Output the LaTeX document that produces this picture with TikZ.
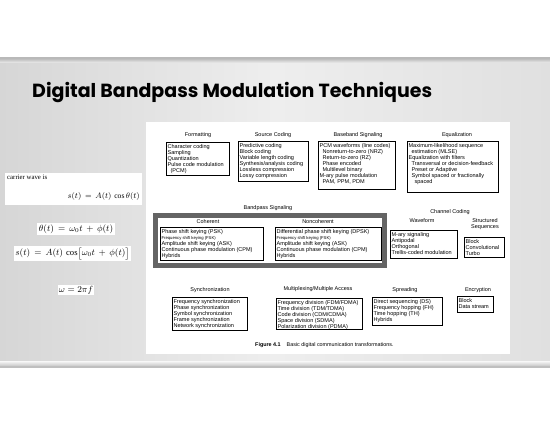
\documentclass[tikz,border=0pt]{standalone}
\usepackage{fontspec}
\setmainfont{Liberation Serif}
\newfontfamily\figfont{Liberation Sans}
\newfontfamily\titlefont{Poppins}
\definecolor{framegray}{RGB}{100,100,100}
\definecolor{bandleft}{RGB}{214,214,214}
\definecolor{bandmid}{RGB}{238,238,238}
\definecolor{bandright}{RGB}{224,224,224}
\tikzset{
  boxframe/.style={draw=black, line width=0.45pt, fill=white, inner sep=0pt},
  boxtext/.style={anchor=north west, align=left, inner xsep=1.6pt, inner ysep=2.1pt,
    font=\figfont\fontsize{5.55}{6}\selectfont},
  head/.style={font=\figfont\fontsize{5.5}{6.2}\selectfont, inner sep=0pt, align=center},
  eqbox/.style={fill=white, inner sep=1.5pt}
}
\newcommand{\ind}{\hspace*{3pt}}
\newcommand{\fsk}{{\fontsize{4.2}{5}\selectfont Frequency shift keying (FSK)}}
% framed list: name, left, top, right, bottom, lines
\newcommand{\infobox}[6]{%
  \node[boxframe, minimum width={(#4-#2)*1pt}, minimum height={(#5-#3)*1pt}]
    (#1) at ({(#2+#4)/2},{(#3+#5)/2}) {};
  \node[boxtext] (#1-text) at (#1.north west) {#6};
}
\begin{document}
\begin{tikzpicture}[x=1pt,y=-1pt]
\useasboundingbox (0,0) rectangle (550,425);
\fill[white] (0,0) rectangle (550,425);
% slide band
\shade[left color=bandleft, right color=bandright, middle color=bandmid] (0,59) rectangle (550,368);
\fill[gray!55] (0,57.5) rectangle (550,59.5);
\shade[top color=gray!45, bottom color=bandmid] (0,59.5) rectangle (550,63);
\fill[gray!50] (0,365.5) rectangle (550,368);
\shade[top color=bandmid, bottom color=gray!40] (0,362) rectangle (550,365.5);

% title
\node[anchor=base west, inner sep=0pt, font=\titlefont\bfseries\fontsize{19}{22}\selectfont] (title) at (32,97.5) {Digital Bandpass Modulation Techniques};

% equations
\node[eqbox, minimum width=137pt, minimum height=32pt] (carrier) at (73.5,189) {};
\node[anchor=base west, inner sep=0pt, font=\fontsize{6.8}{8}\selectfont] (cwave) at (7,180) {carrier wave is};
\node[anchor=base east, inner sep=0pt, font=\fontsize{7.6}{9}\selectfont] (seq) at (140,199) {$s(t)\,=\,A(t)\,\cos\theta(t)$};
\node[eqbox, font=\fontsize{8.6}{10}\selectfont] (theta) at (76,229) {$\theta(t)\,=\,\omega_0t\,+\,\phi(t)$};
\node[eqbox, font=\fontsize{8.6}{10}\selectfont] (sfull) at (72.5,253.5) {$s(t)\,=\,A(t)\,\cos\bigl[\omega_0t\,+\,\phi(t)\bigr]$};
\node[eqbox, inner sep=0.8pt, font=\fontsize{8.6}{10}\selectfont] (omega) at (76,290) {$\omega=2\pi f$};

% figure sheet
\fill[white] (146,122) rectangle (510,354);

% headings
\node[head] (hfmt) at (198,135) {Formatting};
\node[head] (hsrc) at (273,135) {Source Coding};
\node[head] (hbase) at (358,135) {Baseband Signaling};
\node[head] (heq) at (457,135) {Equalization};
\node[head] (hbp) at (268,208) {Bandpass Signaling};
\node[head] (hcoh) at (208,222) {Coherent};
\node[head] (hnon) at (318,222) {Noncoherent};
\node[head] (hch) at (450,212) {Channel Coding};
\node[head] (hwave) at (422,220.5) {Waveform};
\node[head] (hstruct) at (485,224) {Structured\\Sequences};
\node[head] (hsync) at (210,290) {Synchronization};
\node[head] (hmux) at (318,289) {Multiplexing/Multiple Access};
\node[head] (hspread) at (405,290) {Spreading};
\node[head] (henc) at (478,290) {Encryption};

% top row
\infobox{fmt}{166}{142}{229}{175}
  {Character coding\\Sampling\\Quantization\\Pulse code modulation\\\ind(PCM)}
\infobox{src}{238}{141}{308}{181}
  {Predictive coding\\Block coding\\Variable length coding\\Synthesis/analysis coding\\Lossless compression\\Lossy compression}
\infobox{base}{318}{141}{395}{189}
  {PCM waveforms (line codes)\\\ind Nonreturn-to-zero (NRZ)\\\ind Return-to-zero (RZ)\\\ind Phase encoded\\\ind Multilevel binary\\M-ary pulse modulation\\\ind PAM, PPM, PDM}
\infobox{eq}{407}{141}{498}{192}
  {Maximum-likelihood sequence\\\ind estimation (MLSE)\\Equalization with filters\\\ind Transversal or decision-feedback\\\ind Preset or Adaptive\\\ind Symbol spaced or fractionally\\\ind\ind spaced}

% bandpass signaling frame
\node[draw=framegray, line width=5pt, minimum width=229pt, minimum height=50pt, inner sep=0pt] (bp) at (270,240.5) {};
\infobox{coh}{160}{227}{263}{260}
  {Phase shift keying (PSK)\\\fsk\\Amplitude shift keying (ASK)\\Continuous phase modulation (CPM)\\Hybrids}
\infobox{non}{275}{227}{381}{260}
  {Differential phase shift keying (DPSK)\\\fsk\\Amplitude shift keying (ASK)\\Continuous phase modulation (CPM)\\Hybrids}

% channel coding
\infobox{wave}{390}{230}{457}{258}
  {M-ary signaling\\Antipodal\\Orthogonal\\Trellis-coded modulation}
\infobox{struct}{464}{237}{504}{257}
  {Block\\Convolutional\\Turbo}

% bottom row
\infobox{sync}{172}{297}{247}{330}
  {Frequency synchronization\\Phase synchronization\\Symbol synchronization\\Frame synchronization\\Network synchronization}
\infobox{mux}{276}{298}{362}{329}
  {Frequency division (FDM/FDMA)\\Time division (TDM/TDMA)\\Code division (CDM/CDMA)\\Space division (SDMA)\\Polarization division (PDMA)}
\infobox{spread}{372}{297}{442}{325}
  {Direct sequencing (DS)\\Frequency hopping (FH)\\Time hopping (TH)\\Hybrids}
\infobox{enc}{457}{296}{493}{312}
  {Block\\Data stream}

% caption
\node[anchor=west, inner sep=0pt, font=\figfont\fontsize{5.4}{6}\selectfont] (cap) at (255,345)
  {\textbf{Figure 4.1}\hspace{6pt}Basic digital communication transformations.};
\end{tikzpicture}
\end{document}
